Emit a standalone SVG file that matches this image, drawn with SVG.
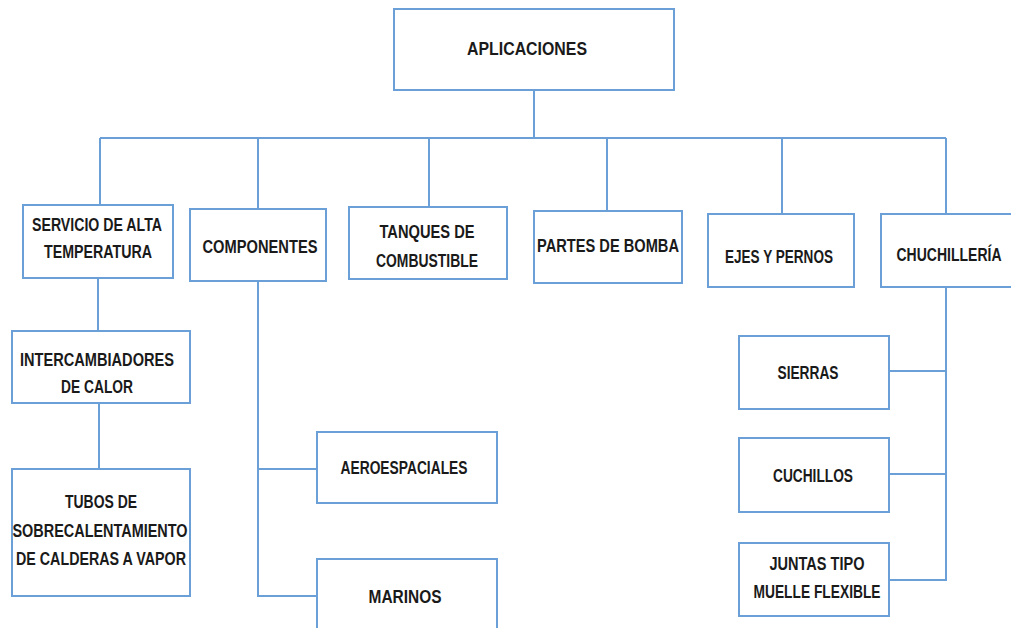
<svg xmlns="http://www.w3.org/2000/svg" width="1011" height="628" viewBox="0 0 1011 628">
  <style>
    .box { fill: #ffffff; stroke: #6a9fd8; stroke-width: 2; }
    .link { fill: none; stroke: #6a9fd8; stroke-width: 2; }
    .lbl { font-family: "Liberation Sans", Arial, sans-serif; font-weight: bold; font-size: 18px; fill: #1a1a1a; text-anchor: middle; }
  </style>
  <rect width="1011" height="628" fill="#ffffff"/>

  <g id="connectors">
    <path class="link" d="M534,90 V138"/>
    <path class="link" d="M100,138 H946"/>
    <path class="link" d="M100,138 V205"/>
    <path class="link" d="M258,138 V209"/>
    <path class="link" d="M429,138 V207"/>
    <path class="link" d="M607,138 V211"/>
    <path class="link" d="M782,138 V214"/>
    <path class="link" d="M946,138 V214"/>
    <path class="link" d="M98,278 V331"/>
    <path class="link" d="M99,403 V469"/>
    <path class="link" d="M258,281 V596 H317"/>
    <path class="link" d="M258,469 H317"/>
    <path class="link" d="M946,287 V580 H889"/>
    <path class="link" d="M889,371 H946"/>
    <path class="link" d="M889,474 H946"/>
  </g>

  <g id="aplicaciones">
    <rect class="box" x="394" y="9" width="280" height="81"/>
    <text class="lbl" x="527" y="55" textLength="120" lengthAdjust="spacingAndGlyphs">APLICACIONES</text>
  </g>

  <g id="servicio">
    <rect class="box" x="23" y="205" width="150" height="73"/>
    <text class="lbl" x="97" y="231" textLength="130" lengthAdjust="spacingAndGlyphs">SERVICIO DE ALTA</text>
    <text class="lbl" x="98" y="258" textLength="108" lengthAdjust="spacingAndGlyphs">TEMPERATURA</text>
  </g>

  <g id="componentes">
    <rect class="box" x="190" y="209" width="136" height="72"/>
    <text class="lbl" x="260" y="253" textLength="115" lengthAdjust="spacingAndGlyphs">COMPONENTES</text>
  </g>

  <g id="tanques">
    <rect class="box" x="349" y="207" width="158" height="72"/>
    <text class="lbl" x="427" y="238" textLength="95" lengthAdjust="spacingAndGlyphs">TANQUES DE</text>
    <text class="lbl" x="427" y="267" textLength="102" lengthAdjust="spacingAndGlyphs">COMBUSTIBLE</text>
  </g>

  <g id="partes-bomba">
    <rect class="box" x="534" y="211" width="148" height="72"/>
    <text class="lbl" x="608" y="252" textLength="142" lengthAdjust="spacingAndGlyphs">PARTES DE BOMBA</text>
  </g>

  <g id="ejes-pernos">
    <rect class="box" x="708" y="214" width="146" height="73"/>
    <text class="lbl" x="779" y="263" textLength="108" lengthAdjust="spacingAndGlyphs">EJES Y PERNOS</text>
  </g>

  <g id="chuchilleria">
    <rect class="box" x="881" y="214" width="140" height="73"/>
    <!-- smaller base size, stretched vertically to keep the cap height of the other labels -->
    <text class="lbl" transform="translate(949,261) scale(1,1.29)" x="0" y="0" style="font-size:14px" textLength="105" lengthAdjust="spacingAndGlyphs">CHUCHILLERÍA</text>
  </g>

  <g id="intercambiadores">
    <rect class="box" x="12" y="331" width="178" height="72"/>
    <text class="lbl" x="97" y="366" textLength="154" lengthAdjust="spacingAndGlyphs">INTERCAMBIADORES</text>
    <text class="lbl" x="97" y="393" textLength="72" lengthAdjust="spacingAndGlyphs">DE CALOR</text>
  </g>

  <g id="tubos">
    <rect class="box" x="12" y="469" width="178" height="127"/>
    <text class="lbl" x="101" y="508" textLength="72" lengthAdjust="spacingAndGlyphs">TUBOS DE</text>
    <text class="lbl" x="100" y="537" textLength="175" lengthAdjust="spacingAndGlyphs">SOBRECALENTAMIENTO</text>
    <text class="lbl" x="101" y="565" textLength="170" lengthAdjust="spacingAndGlyphs">DE CALDERAS A VAPOR</text>
  </g>

  <g id="aeroespaciales">
    <rect class="box" x="317" y="432" width="180" height="71"/>
    <text class="lbl" x="404" y="474" textLength="127" lengthAdjust="spacingAndGlyphs">AEROESPACIALES</text>
  </g>

  <g id="marinos">
    <rect class="box" x="317" y="559" width="180" height="80"/>
    <text class="lbl" x="405" y="603" textLength="73" lengthAdjust="spacingAndGlyphs">MARINOS</text>
  </g>

  <g id="sierras">
    <rect class="box" x="739" y="336" width="150" height="73"/>
    <text class="lbl" x="808" y="379" textLength="61" lengthAdjust="spacingAndGlyphs">SIERRAS</text>
  </g>

  <g id="cuchillos">
    <rect class="box" x="739" y="438" width="150" height="74"/>
    <text class="lbl" x="813" y="482" textLength="80" lengthAdjust="spacingAndGlyphs">CUCHILLOS</text>
  </g>

  <g id="juntas">
    <rect class="box" x="739" y="543" width="150" height="73"/>
    <text class="lbl" x="817" y="570" textLength="95" lengthAdjust="spacingAndGlyphs">JUNTAS TIPO</text>
    <text class="lbl" x="817" y="598" textLength="127" lengthAdjust="spacingAndGlyphs">MUELLE FLEXIBLE</text>
  </g>
</svg>
